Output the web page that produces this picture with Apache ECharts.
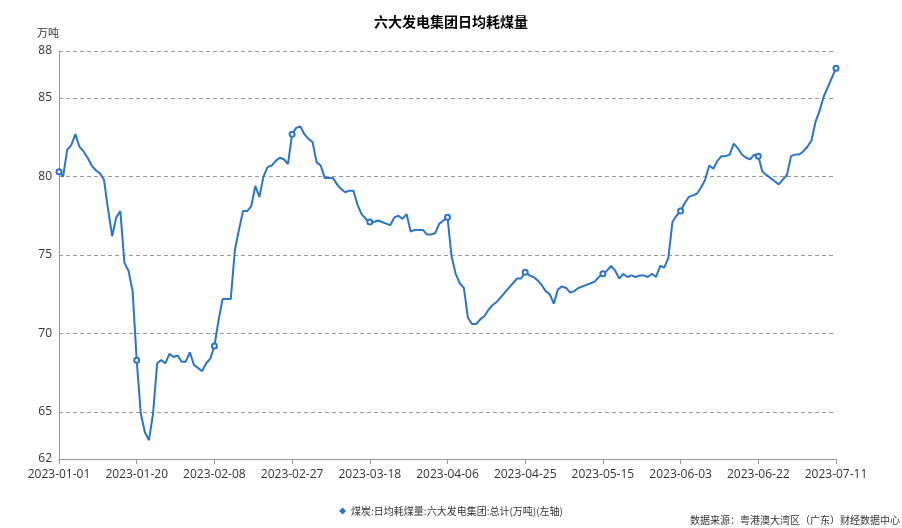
<!DOCTYPE html>
<html>
<head>
<meta charset="utf-8">
<script src="https://cdn.jsdelivr.net/npm/echarts@6/dist/echarts.min.js"></script>
<style>
html,body{margin:0;padding:0;background:#fff;}
#chart{width:902px;height:528px;}
</style>
</head>
<body>
<div id="chart"></div>
<script>
const titleText = '六大发电集团日均耗煤量';
const seriesName = '煤炭:日均耗煤量:六大发电集团:总计(万吨)(左轴)';
const sourceText = '数据来源：粤港澳大湾区（广东）财经数据中心';
const yUnit = '万吨';

const dates = [
'2023-01-01','2023-01-02','2023-01-03','2023-01-04','2023-01-05','2023-01-06','2023-01-07','2023-01-08','2023-01-09','2023-01-10',
'2023-01-11','2023-01-12','2023-01-13','2023-01-14','2023-01-15','2023-01-16','2023-01-17','2023-01-18','2023-01-19','2023-01-20',
'2023-01-21','2023-01-22','2023-01-23','2023-01-24','2023-01-25','2023-01-26','2023-01-27','2023-01-28','2023-01-29','2023-01-30',
'2023-01-31',
'2023-02-01','2023-02-02','2023-02-03','2023-02-04','2023-02-05','2023-02-06','2023-02-07','2023-02-08','2023-02-09','2023-02-10',
'2023-02-11','2023-02-12','2023-02-13','2023-02-14','2023-02-15','2023-02-16','2023-02-17','2023-02-18','2023-02-19','2023-02-20',
'2023-02-21','2023-02-22','2023-02-23','2023-02-24','2023-02-25','2023-02-26','2023-02-27','2023-02-28',
'2023-03-01','2023-03-02','2023-03-03','2023-03-04','2023-03-05','2023-03-06','2023-03-07','2023-03-08','2023-03-09','2023-03-10',
'2023-03-11','2023-03-12','2023-03-13','2023-03-14','2023-03-15','2023-03-16','2023-03-17','2023-03-18','2023-03-19','2023-03-20',
'2023-03-21','2023-03-22','2023-03-23','2023-03-24','2023-03-25','2023-03-26','2023-03-27','2023-03-28','2023-03-29','2023-03-30',
'2023-03-31',
'2023-04-01','2023-04-02','2023-04-03','2023-04-04','2023-04-05','2023-04-06','2023-04-07','2023-04-08','2023-04-09','2023-04-10',
'2023-04-11','2023-04-12','2023-04-13','2023-04-14','2023-04-15','2023-04-16','2023-04-17','2023-04-18','2023-04-19','2023-04-20',
'2023-04-21','2023-04-22','2023-04-23','2023-04-24','2023-04-25','2023-04-26','2023-04-27','2023-04-28','2023-04-29','2023-04-30',
'2023-05-02','2023-05-03','2023-05-04','2023-05-05','2023-05-06','2023-05-07','2023-05-08','2023-05-09','2023-05-10',
'2023-05-11','2023-05-12','2023-05-13','2023-05-14','2023-05-15','2023-05-16','2023-05-17','2023-05-18','2023-05-19','2023-05-20',
'2023-05-21','2023-05-22','2023-05-23','2023-05-24','2023-05-25','2023-05-26','2023-05-27','2023-05-28','2023-05-29','2023-05-30',
'2023-05-31',
'2023-06-01','2023-06-02','2023-06-03','2023-06-04','2023-06-05','2023-06-06','2023-06-07','2023-06-08','2023-06-09','2023-06-10',
'2023-06-11','2023-06-12','2023-06-13','2023-06-14','2023-06-15','2023-06-16','2023-06-17','2023-06-18','2023-06-19','2023-06-20',
'2023-06-21','2023-06-22','2023-06-23','2023-06-24','2023-06-25','2023-06-26','2023-06-27','2023-06-28','2023-06-29','2023-06-30',
'2023-07-01','2023-07-02','2023-07-03','2023-07-04','2023-07-05','2023-07-06','2023-07-07','2023-07-08','2023-07-09','2023-07-10',
'2023-07-11'
];

const coalUse = [
80.3,80.0,81.7,82.0,82.7,81.9,81.6,81.2,80.7,80.4,
80.2,79.8,77.9,76.2,77.4,77.8,74.5,74.0,72.7,68.3,
64.9,63.7,63.2,64.9,68.1,68.3,68.1,68.7,68.5,68.6,
68.2,68.2,68.8,68.0,67.8,67.6,68.1,68.4,69.2,70.8,
72.2,72.2,72.2,75.3,76.6,77.8,77.8,78.1,79.4,78.7,
80.0,80.6,80.7,81.0,81.2,81.1,80.8,82.7,83.1,83.2,
82.7,82.4,82.2,80.9,80.7,79.9,79.9,79.9,79.5,79.2,
79.0,79.1,79.1,78.2,77.6,77.3,77.1,77.1,77.2,77.1,
77.0,76.9,77.4,77.5,77.3,77.6,76.5,76.6,76.6,76.6,
76.3,76.3,76.4,77.0,77.2,77.4,74.9,73.8,73.2,72.9,
71.0,70.6,70.6,70.9,71.1,71.5,71.8,72.0,72.3,72.6,
72.9,73.2,73.5,73.5,73.9,73.7,73.6,73.4,73.1,72.7,
72.5,71.9,72.8,73.0,72.9,72.6,72.7,72.9,73.0,73.1,
73.2,73.3,73.6,73.8,74.0,74.3,74.0,73.5,73.8,73.6,
73.7,73.6,73.7,73.7,73.6,73.8,73.6,74.3,74.2,74.8,
77.1,77.5,77.8,78.3,78.7,78.8,78.9,79.3,79.8,80.7,
80.5,81.0,81.3,81.3,81.4,82.1,81.8,81.4,81.2,81.1,
81.4,81.3,80.3,80.1,79.9,79.7,79.5,79.8,80.1,81.3,
81.4,81.4,81.6,81.9,82.3,83.5,84.2,85.1,85.7,86.3,
86.9
];

const yMin = 62;
const yMax = 88;

const chart = echarts.init(document.getElementById('chart'));
chart.setOption({
  animation: false,
  backgroundColor: '#fff',
  title: {
    text: titleText,
    left: 'center',
    top: 10,
    textStyle: { fontSize: 14, fontWeight: 'bold', color: '#000', fontFamily: 'Noto Sans CJK SC' }
  },
  legend: {
    data: [{ name: seriesName, icon: 'diamond' }],
    left: 'center',
    top: 501,
    itemWidth: 7,
    itemHeight: 7,
    itemGap: 5,
    textStyle: { fontSize: 10, color: '#333', fontFamily: 'Noto Sans CJK SC' }
  },
  graphic: [{
    type: 'text',
    right: 2,
    top: 515,
    style: { text: sourceText, fontSize: 10, fill: '#333', fontFamily: 'Noto Sans CJK SC' }
  }],
  grid: { left: 59, right: 66, top: 51, bottom: 69 },
  xAxis: {
    type: 'category',
    data: dates,
    boundaryGap: false,
    axisLine: { lineStyle: { color: '#999' } },
    axisTick: { show: true, interval: 18, length: 5, lineStyle: { color: '#999' } },
    axisLabel: { interval: 18, color: '#333', fontSize: 12, margin: 10, fontFamily: 'Open Sans' }
  },
  yAxis: {
    type: 'value',
    min: yMin,
    max: yMax,
    name: yUnit,
    nameGap: 13,
    nameTextStyle: { color: '#333', fontSize: 11, align: 'right', fontFamily: 'Noto Sans CJK SC' },
    axisLine: { show: true, lineStyle: { color: '#999' } },
    axisTick: { show: false },
    axisLabel: { color: '#333', fontSize: 12, margin: 7, fontFamily: 'Open Sans' },
    splitLine: { show: true, lineStyle: { color: '#999', type: [4, 3], width: 1 } }
  },
  series: [{
    name: seriesName,
    type: 'line',
    data: coalUse,
    symbol: 'emptyCircle',
    symbolSize: 5,
    showAllSymbol: 'auto',
    itemStyle: { color: '#2b74c7', borderWidth: 1.5 },
    lineStyle: { color: '#2b74c7', width: 2 }
  }]
});
</script>
</body>
</html>
